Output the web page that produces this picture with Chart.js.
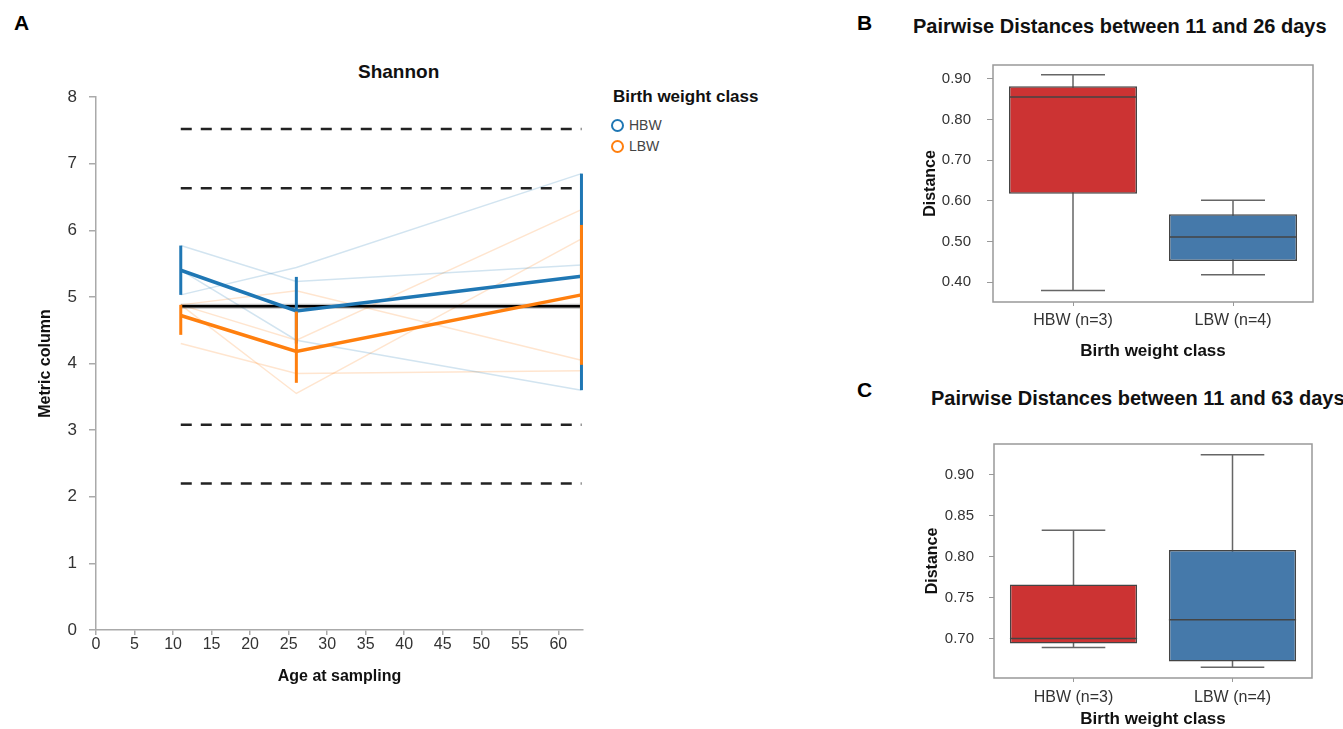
<!DOCTYPE html>
<html lang="en">
<head>
    <meta charset="UTF-8">
    <title>Shannon diversity and pairwise distances by birth weight class</title>
    <script src="https://cdn.jsdelivr.net/npm/chart.js"></script>
    <style>
        body {
            margin: 0;
            background: #fff;
            font-family: 'Liberation Sans', Arial, sans-serif;
            color: #222;
        }
        #figure {
            position: relative;
            width: 1343px;
            height: 729px;
            overflow: hidden;
        }
        .panel {
            position: absolute;
        }
        .letter {
            position: absolute;
            font-weight: bold;
            font-size: 21px;
            color: #000;
        }
        .title {
            position: absolute;
            font-weight: bold;
            white-space: nowrap;
            color: #111;
        }
        .legend-item {
            position: absolute;
            font-size: 14px;
            color: #444;
            line-height: 16px;
        }
        .legend-item span {
            display: inline-block;
            width: 9px;
            height: 9px;
            border-radius: 50%;
            border: 2.5px solid;
            margin-right: 5px;
            vertical-align: -2px;
        }
    </style>
</head>
<body>
<div id="figure">
    <div class="letter" style="left:14px; top:11px;">A</div>
    <div class="letter" style="left:857px; top:11px;">B</div>
    <div class="letter" style="left:857px; top:378px;">C</div>

    <div class="title" style="left:358px; top:61px; font-size:19px;">Shannon</div>
    <div class="title" style="left:913px; top:15px; font-size:20px;">Pairwise Distances between 11 and 26 days</div>
    <div class="title" style="left:931px; top:387px; font-size:20px;">Pairwise Distances between 11 and 63 days</div>

    <div class="title" style="left:613px; top:87px; font-size:17px;">Birth weight class</div>
    <div class="legend-item" style="left:611px; top:117px;"><span style="border-color:#1f77b4"></span>HBW</div>
    <div class="legend-item" style="left:611px; top:138px;"><span style="border-color:#ff7f0e"></span>LBW</div>

    <div class="panel" style="left:0; top:0; width:800px; height:729px;"><canvas id="chartA"></canvas></div>
    <div class="panel" style="left:880px; top:40px; width:463px; height:330px;"><canvas id="chartB"></canvas></div>
    <div class="panel" style="left:880px; top:420px; width:463px; height:311px;"><canvas id="chartC"></canvas></div>
</div>

<script>
    // ---- panel A: Shannon over age ----
    const ages = [11, 26, 63];
    const hbwMean = [5.40, 4.79, 5.31];
    const hbwLow = [5.03, 4.30, 3.60];
    const hbwHigh = [5.77, 5.30, 6.85];
    const lbwMean = [4.72, 4.18, 5.03];
    const lbwLow = [4.43, 3.71, 3.98];
    const lbwHigh = [4.88, 4.78, 6.08];
    // one row per subject, values at the ages above
    const hbwSubjects = [
        [5.77, 5.23, 5.48],
        [5.40, 4.35, 3.60],
        [5.03, 5.44, 6.85]
    ];
    const lbwSubjects = [
        [4.30, 3.85, 3.89],
        [4.88, 5.09, 4.05],
        [4.88, 4.35, 6.31],
        [4.88, 3.55, 5.87]
    ];
    const dashedLevels = [7.52, 6.63, 3.08, 2.20];
    const baselineLevel = 4.86;
    const xTicksA = [0, 5, 10, 15, 20, 25, 30, 35, 40, 45, 50, 55, 60];
    const yTicksA = [0, 1, 2, 3, 4, 5, 6, 7, 8];

    // ---- panels B and C: pairwise distances ----
    const groups = ['HBW (n=3)', 'LBW (n=4)'];
    const boxColors = ['#cc3333', '#4579aa'];
    const bMin = [0.379, 0.418];
    const bQ1 = [0.617, 0.452];
    const bMed = [0.855, 0.511];
    const bQ3 = [0.882, 0.567];
    const bMax = [0.910, 0.601];
    const yTicksB = [0.40, 0.50, 0.60, 0.70, 0.80, 0.90];
    const cMin = [0.689, 0.665];
    const cQ1 = [0.694, 0.672];
    const cMed = [0.700, 0.723];
    const cQ3 = [0.766, 0.808];
    const cMax = [0.832, 0.924];
    const yTicksC = [0.70, 0.75, 0.80, 0.85, 0.90];

    Chart.defaults.font.family = "'Liberation Sans', Arial, sans-serif";
    Chart.defaults.color = '#333';
    Chart.defaults.animation = false;

    const BLUE = '#1f77b4';
    const ORANGE = '#ff7f0e';
    const AXIS_GRAY = '#aaaaaa';

    function pts(xs, ys) {
        return xs.map((x, i) => ({ x: x, y: ys[i] }));
    }

    function lineSet(data, color, width, order, extra) {
        return Object.assign({
            data: data,
            borderColor: color,
            borderWidth: width,
            pointRadius: 0,
            fill: false,
            tension: 0,
            order: order
        }, extra || {});
    }

    const datasetsA = [];
    const span = [ages[0], ages[ages.length - 1]];

    // dashed reference levels
    dashedLevels.forEach(v => {
        datasetsA.push(lineSet(pts(span, [v, v]), '#222', 2.5, 7, { borderDash: [11, 9] }));
    });
    // solid baseline with a soft grey halo
    datasetsA.push(lineSet(pts(span, [baselineLevel, baselineLevel]), 'rgba(0,0,0,0.25)', 5, 5));
    datasetsA.push(lineSet(pts(span, [baselineLevel, baselineLevel]), '#000', 2.5, 4));
    // faint per-subject lines
    hbwSubjects.forEach(s => datasetsA.push(lineSet(pts(ages, s), 'rgba(31,119,180,0.2)', 1.5, 6)));
    lbwSubjects.forEach(s => datasetsA.push(lineSet(pts(ages, s), 'rgba(255,127,14,0.2)', 1.5, 6)));
    // group means and error bars
    datasetsA.push(lineSet(pts(ages, hbwMean), BLUE, 3.5, 3));
    ages.forEach((a, i) => {
        datasetsA.push(lineSet([{ x: a, y: hbwLow[i] }, { x: a, y: hbwHigh[i] }], BLUE, 3, 3));
    });
    datasetsA.push(lineSet(pts(ages, lbwMean), ORANGE, 3.5, 1));
    ages.forEach((a, i) => {
        datasetsA.push(lineSet([{ x: a, y: lbwLow[i] }, { x: a, y: lbwHigh[i] }], ORANGE, 3, 1));
    });

    new Chart(document.getElementById('chartA'), {
        type: 'line',
        data: { datasets: datasetsA },
        options: {
            responsive: true,
            maintainAspectRatio: false,
            layout: { padding: { top: 97, right: 217, left: 0, bottom: 39 } },
            plugins: { legend: { display: false }, tooltip: { enabled: false } },
            scales: {
                x: {
                    type: 'linear',
                    min: 0,
                    max: 63.2,
                    afterBuildTicks: s => { s.ticks = xTicksA.map(v => ({ value: v })); },
                    afterFit: s => { s.height = 60; },
                    grid: { drawOnChartArea: false, tickLength: 5, color: AXIS_GRAY, lineWidth: 1.5 },
                    border: { color: AXIS_GRAY, width: 1.5 },
                    ticks: { font: { size: 16 }, padding: 0, maxRotation: 0 },
                    title: {
                        display: true,
                        text: 'Age at sampling',
                        color: '#111',
                        font: { size: 16, weight: 'bold' },
                        padding: { top: 0, bottom: 4 }
                    }
                },
                y: {
                    min: 0,
                    max: 8,
                    afterBuildTicks: s => { s.ticks = yTicksA.map(v => ({ value: v })); },
                    afterFit: s => { s.width = 96; },
                    grid: { drawOnChartArea: false, tickLength: 7, color: AXIS_GRAY, lineWidth: 1.5 },
                    border: { color: AXIS_GRAY, width: 1.5 },
                    ticks: { font: { size: 17 }, padding: 12 },
                    title: {
                        display: true,
                        text: 'Metric column',
                        color: '#111',
                        font: { size: 16, weight: 'bold' },
                        padding: { top: 36, bottom: 0 }
                    }
                }
            }
        }
    });

    // box plot helpers: whiskers under the boxes, medians over them, frame around
    const boxParts = {
        id: 'boxParts',
        beforeDatasetsDraw(chart, args, opts) {
            const ctx = chart.ctx;
            const y = chart.scales.y;
            const bars = chart.getDatasetMeta(0).data;
            ctx.save();
            ctx.strokeStyle = '#666';
            ctx.lineWidth = 1.5;
            bars.forEach((bar, i) => {
                const half = bar.width / 4;
                const top = y.getPixelForValue(opts.max[i]);
                const bottom = y.getPixelForValue(opts.min[i]);
                ctx.beginPath();
                ctx.moveTo(bar.x, top);
                ctx.lineTo(bar.x, bottom);
                ctx.moveTo(bar.x - half, top);
                ctx.lineTo(bar.x + half, top);
                ctx.moveTo(bar.x - half, bottom);
                ctx.lineTo(bar.x + half, bottom);
                ctx.stroke();
            });
            ctx.restore();
        },
        afterDatasetsDraw(chart, args, opts) {
            const ctx = chart.ctx;
            const y = chart.scales.y;
            const bars = chart.getDatasetMeta(0).data;
            ctx.save();
            ctx.strokeStyle = '#444';
            ctx.lineWidth = 1.5;
            bars.forEach((bar, i) => {
                const m = y.getPixelForValue(opts.med[i]);
                ctx.beginPath();
                ctx.moveTo(bar.x - bar.width / 2, m);
                ctx.lineTo(bar.x + bar.width / 2, m);
                ctx.stroke();
            });
            const a = chart.chartArea;
            ctx.strokeStyle = '#999';
            ctx.strokeRect(a.left, a.top, a.right - a.left, a.bottom - a.top);
            ctx.restore();
        }
    };

    function boxChart(id, q1, q3, stats, range, ticks, geom) {
        new Chart(document.getElementById(id), {
            type: 'bar',
            data: {
                labels: groups,
                datasets: [{
                    data: q1.map((v, i) => [v, q3[i]]),
                    backgroundColor: boxColors,
                    borderColor: '#444',
                    borderWidth: 1.5,
                    borderSkipped: false,
                    categoryPercentage: 0.8,
                    barPercentage: 1
                }]
            },
            options: {
                responsive: true,
                maintainAspectRatio: false,
                layout: { padding: geom.padding },
                plugins: {
                    legend: { display: false },
                    tooltip: { enabled: false },
                    boxParts: stats
                },
                scales: {
                    x: {
                        afterFit: s => { s.height = geom.xHeight; },
                        grid: { offset: false, drawOnChartArea: false, tickLength: 4, color: '#999' },
                        border: { display: false },
                        ticks: { font: { size: 16 }, padding: geom.xPad },
                        title: {
                            display: true,
                            text: 'Birth weight class',
                            color: '#111',
                            font: { size: 17, weight: 'bold' },
                            padding: { top: 0, bottom: geom.xTitlePad }
                        }
                    },
                    y: {
                        min: range[0],
                        max: range[1],
                        afterBuildTicks: s => { s.ticks = ticks.map(v => ({ value: v })); },
                        afterFit: s => { s.width = geom.yWidth; },
                        grid: { drawOnChartArea: false, tickLength: geom.yTick, color: '#999' },
                        border: { display: false },
                        ticks: { font: { size: 15 }, padding: geom.yPad, callback: v => v.toFixed(2) },
                        title: {
                            display: true,
                            text: 'Distance',
                            color: '#111',
                            font: { size: 16, weight: 'bold' },
                            padding: { top: geom.yTitlePad, bottom: 0 }
                        }
                    }
                }
            },
            plugins: [boxParts]
        });
    }

    boxChart('chartB', bQ1, bQ3, { min: bMin, med: bMed, max: bMax }, [0.351, 0.934], yTicksB, {
        padding: { top: 24, right: 30, left: 0, bottom: 8 },
        xHeight: 60, xPad: 5, xTitlePad: 0,
        yWidth: 113, yTick: 6, yPad: 16, yTitlePad: 41
    });
    boxChart('chartC', cQ1, cQ3, { min: cMin, med: cMed, max: cMax }, [0.652, 0.937], yTicksC, {
        padding: { top: 22, right: 31, left: 0, bottom: 1 },
        xHeight: 52, xPad: 6, xTitlePad: 0,
        yWidth: 114, yTick: 5, yPad: 15, yTitlePad: 43
    });
</script>
</body>
</html>
